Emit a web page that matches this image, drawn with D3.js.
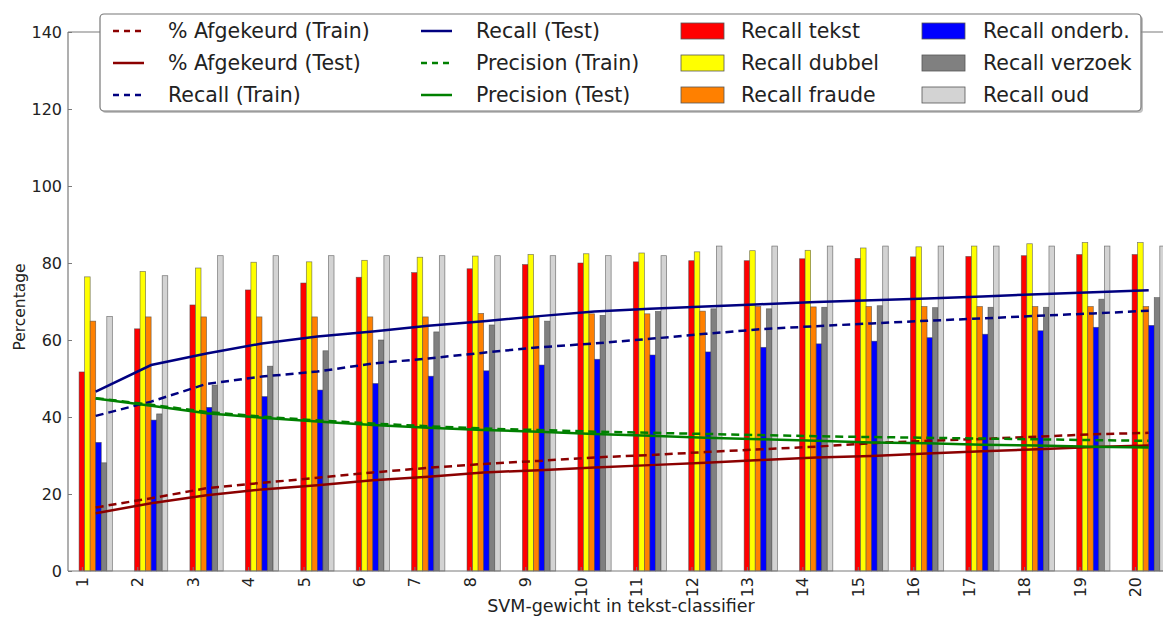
<!DOCTYPE html>
<html>
<head>
<meta charset="utf-8">
<script src="https://cdn.jsdelivr.net/npm/d3@7"></script>
<style>
  html, body { margin: 0; padding: 0; background: #fff; }
  svg { display: block; }
  text { font-family: "DejaVu Sans", sans-serif; fill: #222; }
</style>
</head>
<body>
<svg id="chart" width="1163" height="617"></svg>
<script>
// ---- data ----
const categories = d3.range(1, 21);
const recallTekst   = [51.7,62.9,69.1,73.0,74.8,76.3,77.5,78.5,79.6,80.0,80.3,80.6,80.6,81.1,81.2,81.6,81.7,81.9,82.2,82.2];
const recallDubbel  = [76.4,77.8,78.7,80.2,80.3,80.7,81.5,81.8,82.2,82.4,82.6,82.9,83.2,83.3,83.9,84.2,84.4,85.0,85.3,85.3];
const recallFraude  = [64.9,66.0,66.0,66.0,66.0,66.0,66.0,66.9,66.0,66.8,66.8,67.5,68.7,68.6,68.7,68.7,68.7,68.7,68.7,68.7];
const recallOnderb  = [33.4,39.2,42.5,45.3,47.0,48.7,50.6,52.0,53.5,55.0,56.1,56.9,58.1,59.0,59.7,60.6,61.5,62.4,63.3,63.8];
const recallVerzoek = [28.1,40.8,48.3,53.2,57.2,60.0,62.1,63.9,64.9,66.4,67.4,68.1,68.1,68.5,68.9,68.4,68.5,68.5,70.6,71.0];
const recallOud     = [66.1,76.7,81.9,81.9,81.9,81.9,81.9,81.9,81.9,81.9,81.9,84.4,84.4,84.4,84.4,84.4,84.4,84.4,84.4,84.4];

const afgekeurdTrain = [16.5,18.9,21.5,22.9,24.2,25.6,26.8,27.8,28.6,29.5,30.1,30.9,31.6,32.3,33.2,33.8,34.3,34.9,35.5,35.9];
const afgekeurdTest  = [15.0,17.6,19.7,21.2,22.3,23.6,24.5,25.6,26.2,26.9,27.5,28.1,28.8,29.5,29.9,30.5,31.1,31.6,32.2,32.6];
const recallTrain    = [40.3,44.0,48.6,50.5,51.8,53.9,55.2,56.7,58.1,59.1,60.3,61.6,62.8,63.6,64.3,65.0,65.6,66.3,66.9,67.6];
const recallTest     = [46.6,53.5,56.5,59.1,60.9,62.2,63.7,64.9,66.2,67.4,68.1,68.7,69.3,69.9,70.3,70.8,71.3,71.9,72.4,72.9];
const precisionTrain = [44.9,43.2,41.3,40.1,39.1,38.3,37.6,37.0,36.6,36.2,35.9,35.6,35.3,35.0,34.8,34.6,34.4,34.2,34.0,33.8];
const precisionTest  = [44.8,42.9,41.0,39.8,38.8,37.9,37.2,36.6,36.2,35.6,35.1,34.6,34.2,33.8,33.4,33.2,32.8,32.6,32.3,32.1];

const yTicks = [0,20,40,60,80,100,120,140];

const barSeries = [
  {name: "Recall tekst",   values: recallTekst,   color: "#ff0000"},
  {name: "Recall dubbel",  values: recallDubbel,  color: "#ffff00"},
  {name: "Recall fraude",  values: recallFraude,  color: "#ff8000"},
  {name: "Recall onderb.", values: recallOnderb,  color: "#0000ff"},
  {name: "Recall verzoek", values: recallVerzoek, color: "#808080"},
  {name: "Recall oud",     values: recallOud,     color: "#d3d3d3"}
];
const lineSeries = [
  {name: "% Afgekeurd (Train)", values: afgekeurdTrain, color: "#8b0000", dash: true},
  {name: "% Afgekeurd (Test)",  values: afgekeurdTest,  color: "#8b0000", dash: false},
  {name: "Recall (Train)",      values: recallTrain,    color: "#000080", dash: true},
  {name: "Recall (Test)",       values: recallTest,     color: "#000080", dash: false},
  {name: "Precision (Train)",   values: precisionTrain, color: "#008000", dash: true},
  {name: "Precision (Test)",    values: precisionTest,  color: "#008000", dash: false}
];

// ---- layout ----
const svg = d3.select("#chart");
const pLeft = 68, pRight = 1198.6, pTop = 32, pBottom = 571;
const barW = 0.1;
const x = d3.scaleLinear().domain([0.8, 21.2]).range([pLeft, pRight]);
const y = d3.scaleLinear().domain([0, 140]).range([pBottom, pTop]);

svg.append("rect").attr("width", 1163).attr("height", 617).attr("fill", "#fff");

// bars
const gBars = svg.append("g");
barSeries.forEach((s, k) => {
  gBars.selectAll(null).data(s.values).enter().append("rect")
    .attr("x", (d, i) => x(categories[i] + k * barW))
    .attr("width", x(barW) - x(0))
    .attr("y", d => y(d))
    .attr("height", d => y(0) - y(d))
    .attr("fill", s.color)
    .attr("stroke", "#444")
    .attr("stroke-opacity", 0.7)
    .attr("stroke-width", 0.7);
});

// lines
const line = d3.line()
  .x((d, i) => x(categories[i] + 0.3))
  .y(d => y(d));
lineSeries.forEach(s => {
  svg.append("path").datum(s.values)
    .attr("d", line)
    .attr("fill", "none")
    .attr("stroke", s.color)
    .attr("stroke-width", 2.5)
    .attr("stroke-dasharray", s.dash ? "8,5" : null);
});

// axes
const spine = "#7a7a7a";
const yAxis = d3.axisLeft(y).tickValues(yTicks).tickSize(-4).tickPadding(6);
const gy = svg.append("g").attr("transform", `translate(${pLeft},0)`).call(yAxis);
gy.select(".domain").remove();
gy.selectAll(".tick line").attr("stroke", spine);
gy.selectAll(".tick text").attr("font-size", 16).attr("fill", "#222").attr("font-family", "DejaVu Sans");

const xAxis = d3.axisBottom(x).tickValues(categories.map(c => c + 0.05)).tickFormat((d, i) => categories[i]).tickSize(-4);
const gx = svg.append("g").attr("transform", `translate(0,${pBottom})`).call(xAxis);
gx.select(".domain").remove();
gx.selectAll(".tick line").attr("stroke", spine);
gx.selectAll(".tick text")
  .attr("font-size", 16).attr("fill", "#222").attr("font-family", "DejaVu Sans")
  .attr("transform", "rotate(-90)")
  .attr("text-anchor", "end")
  .attr("x", -6).attr("y", 0).attr("dy", "0.35em");

// spines
svg.append("line").attr("x1", pLeft).attr("x2", pLeft).attr("y1", pTop).attr("y2", pBottom).attr("stroke", spine).attr("stroke-width", 1.2);
svg.append("line").attr("x1", pLeft).attr("x2", 1163).attr("y1", pBottom).attr("y2", pBottom).attr("stroke", spine).attr("stroke-width", 1.2);
svg.append("line").attr("x1", pLeft).attr("x2", 1163).attr("y1", pTop).attr("y2", pTop).attr("stroke", spine).attr("stroke-width", 1.2);

// axis labels
svg.append("text").attr("x", 621).attr("y", 612).attr("text-anchor", "middle")
  .attr("font-size", 17.5).text("SVM-gewicht in tekst-classifier");
svg.append("text").attr("transform", "translate(25,307) rotate(-90)").attr("text-anchor", "middle")
  .attr("font-size", 15.5).text("Percentage");

// legend
const lg = svg.append("g");
lg.append("rect").attr("x", 102).attr("y", 16).attr("width", 1041).attr("height", 97).attr("rx", 4)
  .attr("fill", "#9a9a9a").attr("opacity", 0.6);
lg.append("rect").attr("x", 100).attr("y", 14).attr("width", 1041).attr("height", 97).attr("rx", 4)
  .attr("fill", "#fff").attr("stroke", "#777").attr("stroke-width", 1.2);
const rowY = [31, 63, 95];
const legFont = 20.5;
const lineCols = [{hx: 113, tx: 168}, {hx: 421, tx: 476}];
lineSeries.forEach((s, i) => {
  const col = lineCols[Math.floor(i / 3)], r = rowY[i % 3];
  lg.append("line").attr("x1", col.hx).attr("x2", col.hx + 31).attr("y1", r).attr("y2", r)
    .attr("stroke", s.color).attr("stroke-width", 2.5).attr("stroke-dasharray", s.dash ? "6,5" : null);
  lg.append("text").attr("x", col.tx).attr("y", r).attr("dy", "0.35em").attr("font-size", legFont).text(s.name);
});
const patchCols = [{hx: 681, tx: 741}, {hx: 922, tx: 983}];
barSeries.forEach((s, i) => {
  const col = patchCols[Math.floor(i / 3)], r = rowY[i % 3];
  lg.append("rect").attr("x", col.hx).attr("y", r - 8).attr("width", 43).attr("height", 16)
    .attr("fill", s.color).attr("stroke", "#555").attr("stroke-width", 0.8);
  lg.append("text").attr("x", col.tx).attr("y", r).attr("dy", "0.35em").attr("font-size", legFont).text(s.name);
});
</script>
</body>
</html>
